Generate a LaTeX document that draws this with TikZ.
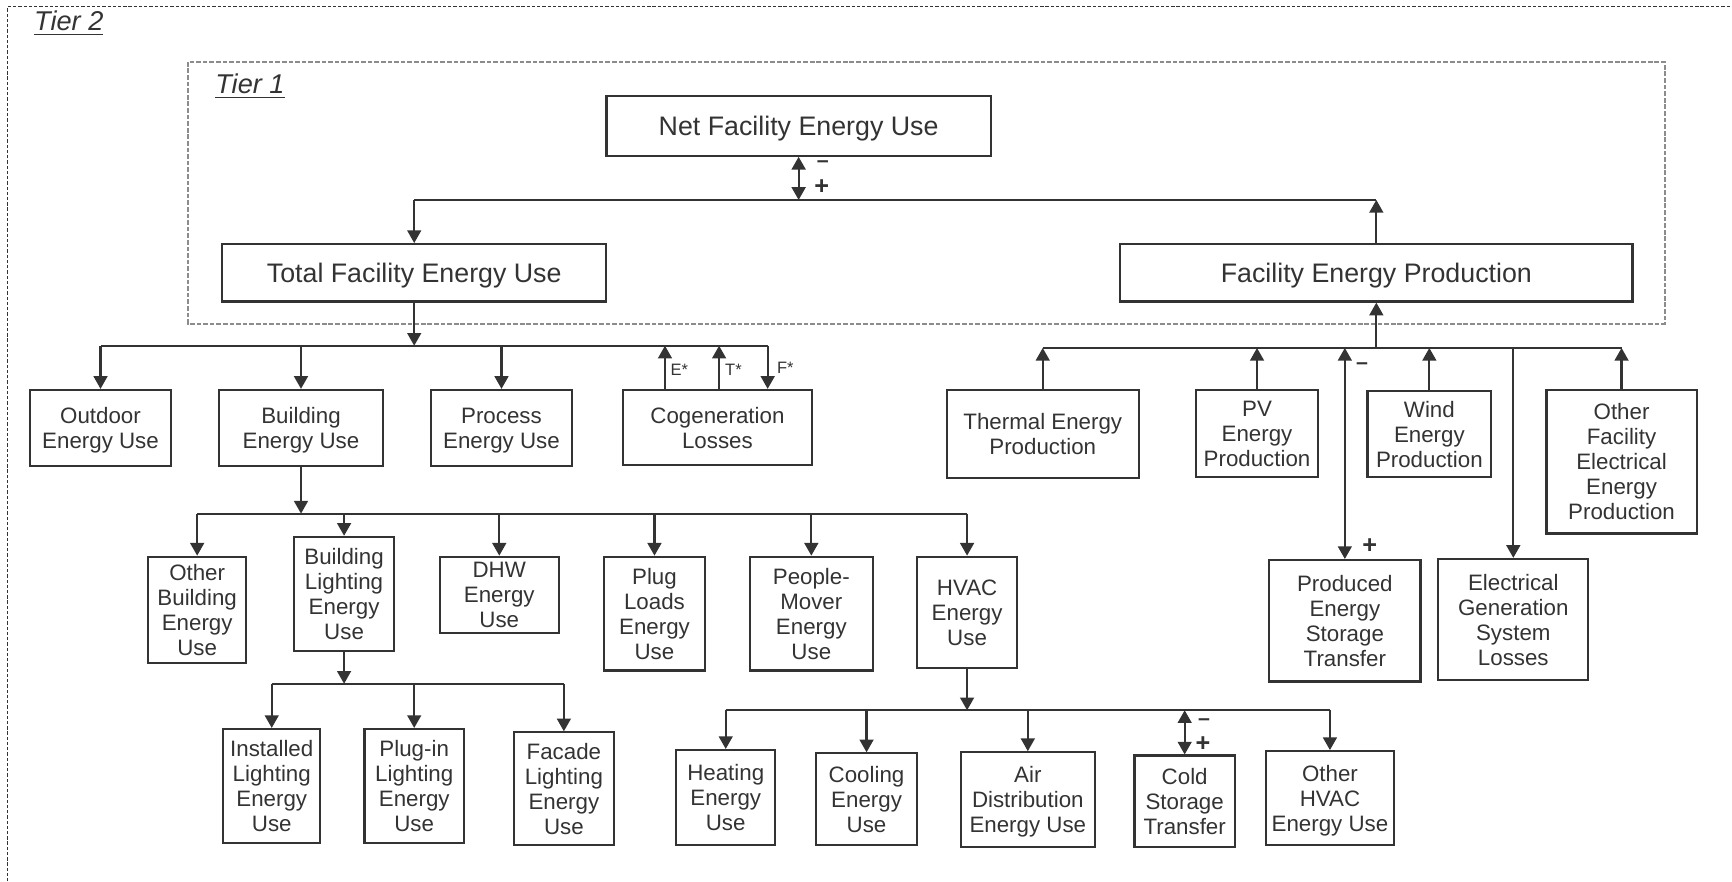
\documentclass[tikz,border=0pt]{standalone}
\usepackage{fontspec}
\setmainfont{Liberation Sans}
\usepackage{tikz}
\usetikzlibrary{arrows.meta,calc,positioning}
\definecolor{ink}{HTML}{333333}
\definecolor{tiergray}{HTML}{8C8C8C}
\tikzset{
    box/.style ={rectangle, draw, align=center, inner sep=1pt, text depth=0pt, font=\fontsize{11.5}{12.9}\selectfont},
    bigbox/.style ={box, font=\fontsize{13.8}{16}\selectfont},
    sz/.style 2 args={minimum width=#1cm, minimum height=#2cm},
    bus/.style={-},
    twoway/.style={{Triangle[length=0.23cm,width=0.25cm]}-{Triangle[length=0.23cm,width=0.25cm]}},
    sgn/.style={font=\fontsize{13}{13}\selectfont\bfseries, inner sep=0pt},
    mns/.style={font=\fontsize{11}{11}\selectfont\bfseries, inner sep=0pt},
    flow/.style={font=\fontsize{8.5}{9}\selectfont, inner sep=0pt},
    tier/.style={font=\fontsize{14}{14}\selectfont\itshape, anchor=west, inner sep=0pt},
    %frame/.style={dashed}
}

\begin{document}
\begin{tikzpicture}[x=0.02cm,y=-0.02cm,color=ink,line width=1.1pt,
    -{Triangle[length=0.23cm,width=0.25cm]}]

\useasboundingbox (0,0) rectangle (1568,798);

    % Tier frames
    \draw[-, line width=0.55pt, dash pattern=on 1.7pt off 1pt] (7,798) -- (7,6) -- (1568,6);
    \draw[-, tiergray, line width=0.9pt, dash pattern=on 2.4pt off 1pt] (170,56) rectangle (1507,293);
    \node (t2) at (30,21) [tier] {\underline{Tier 2}};
    \node (t1) at (194,78) [tier] {\underline{Tier 1}};

    % Tier 1 nodes
    \node (net) at (723,114) [bigbox, sz={6.96}{1.08}] {Net Facility Energy Use};
    \node (tfe) at (375,247) [bigbox, sz={6.96}{1.04}] {Total Facility Energy Use};
    \node (fep) at (1246,247) [bigbox, sz={9.28}{1.04}] {Facility Energy Production};

    % use side
    \node (outd) at (91,387.5) [box, sz={2.56}{1.38}] {Outdoor\\Energy Use};
    \node (bldg) at (272.5,387.5) [box, sz={2.98}{1.38}] {Building\\Energy Use};
    \node (proc) at (454,387.5) [box, sz={2.56}{1.38}] {Process\\Energy Use};
    \node (cog) at (649.5,387) [box, sz={3.42}{1.36}] {Cogeneration\\Losses};

    \node (obld) at (178.5,552) [box, sz={1.78}{1.92}] {Other\\Building\\Energy\\Use};
    \node (blit) at (311.5,537.5) [box, sz={1.82}{2.06}] {Building\\Lighting\\Energy\\Use};
    \node (dhw) at (452,538.5) [box, sz={2.16}{1.38}] {DHW\\Energy\\Use};
    \node (plug) at (592.5,555.5) [box, sz={1.82}{2.06}] {Plug\\Loads\\Energy\\Use};
    \node (pmov) at (734.5,555.5) [box, sz={2.22}{2.06}] {People-\\Mover\\Energy\\Use};
    \node (hvac) at (875.5,554.5) [box, sz={1.82}{2.02}] {HVAC\\Energy\\Use};

    \node (inst) at (246,711.5) [box, sz={1.76}{2.06}] {Installed\\Lighting\\Energy\\Use};
    \node (plin) at (375,711.5) [box, sz={1.80}{2.06}] {Plug-in\\Lighting\\Energy\\Use};
    \node (facd) at (510.5,714) [box, sz={1.82}{2.04}] {Facade\\Lighting\\Energy\\Use};

    \node (heat) at (657,722) [box, sz={1.80}{1.72}] {Heating\\Energy\\Use};
    \node (cool) at (784.5,723.5) [box, sz={1.82}{1.66}] {Cooling\\Energy\\Use};
    \node (aird) at (930.5,724) [box, sz={2.42}{1.72}] {Air\\Distribution\\Energy Use};
    \node (cold) at (1072.5,725.5) [box, sz={1.82}{1.66}] {Cold\\Storage\\Transfer};
    \node (ohva) at (1204,722.5) [box, sz={2.32}{1.70}] {Other\\HVAC\\Energy Use};

    % production side
    \node (thrm) at (944,393) [box, sz={3.48}{1.60}] {Thermal Energy\\Production};
    \node (pv) at (1138,392.5) [box, sz={2.20}{1.58}] {PV\\Energy\\Production};
    \node (wind) at (1294,393) [box, sz={2.24}{1.56}] {Wind\\Energy\\Production};
    \node (ofep) at (1468,418) [box, sz={2.72}{2.60}] {Other\\Facility\\Electrical\\Energy\\Production};
    \node (pest) at (1217.5,562) [box, sz={2.74}{2.20}] {Produced\\Energy\\Storage\\Transfer};
    \node (egsl) at (1370,561) [box, sz={2.72}{2.20}] {Electrical\\Generation\\System\\Losses};

    % junctions
    \coordinate (nj) at (723,181);
    \coordinate (tj) at (375,313);
    \coordinate (pj) at (1246,315);
    \coordinate (bj) at (272.5,465);
    \coordinate (lj) at (311.5,619);
    \coordinate (hj) at (875.5,643);
    \coordinate (coge) at ([xshift=-0.95cm]cog.north);
    \coordinate (cogt) at ([xshift=0.03cm]cog.north);
    \coordinate (cogf) at ([xshift=0.91cm]cog.north);

    % Net
    \path (net) edge[twoway] (nj);
    \node at (745,149) [mns] {--};
    \node at (744,169) [sgn] {+};
    \draw[bus] (tfe |- nj) -- (fep |- nj);
    \path (tfe |- nj) edge (tfe);
    \path (fep) edge (fep |- nj);

    % Total
    \path (tfe) edge (tj);
    \draw[bus] (outd |- tj) -- (cogf |- tj);
    \path (outd |- tj) edge (outd);
    \path (bldg |- tj) edge (bldg);
    \path (proc |- tj) edge (proc);
    \path (cogf |- tj) edge (cogf);
    \path (coge) edge (coge |- tj);
    \path (cogt) edge (cogt |- tj);
    \node at (615,335) [flow] {E*};
    \node at (664,335) [flow] {T*};
    \node at (711,333) [flow] {F*};

    % Building
    \path (bldg) edge (bj);
    \draw[bus] (obld |- bj) -- (hvac |- bj);
    \foreach \n in {obld,blit,dhw,plug,pmov,hvac}
        \path (\n |- bj) edge (\n);
    \path (blit) edge (lj);
    \draw[bus] (inst |- lj) -- (facd |- lj);
    \foreach \n in {inst,plin,facd}
        \path (\n |- lj) edge (\n);

    % HVAC
    \path (hvac) edge (hj);
    \draw[bus] (heat |- hj) -- (ohva |- hj);
    \foreach \n in {heat,cool,aird,ohva}
        \path (\n |- hj) edge (\n);
    \path (cold) edge[twoway] (cold |- hj);
    \node at (1090,654) [mns] {--};
    \node at (1089,674) [sgn] {+};

    % Production
    \path (pj) edge (fep);
    \draw[bus] (thrm |- pj) -- (ofep |- pj);
    \foreach \n in {thrm,pv,wind,ofep}
        \path (\n) edge (\n |- pj);
    \path (egsl |- pj) edge (egsl);
    \path (pest) edge[twoway] (pest |- pj);
    \node at (1233,331) [mns] {--};
    \node at (1240,494) [sgn] {+};

\end{tikzpicture}
\end{document}
